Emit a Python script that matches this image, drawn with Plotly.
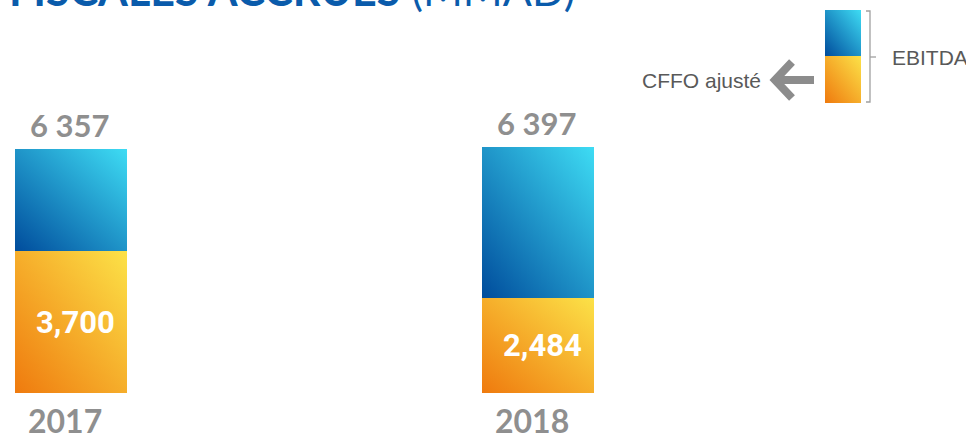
import plotly.graph_objects as go

# ---- data ----
years = ["2017", "2018"]
ebitda = [6357, 6397]
cffo = [3700, 2484]
total_labels = ["6 357", "6 397"]
cffo_labels = ["3,700", "2,484"]
title_bold = "FISCALES ACCRUES"
title_light = " (MMAD)"
legend_top = "EBITDA"
legend_bottom = "CFFO ajusté"

W, H = 966, 433
BLUE_KEY = "rgb(31, 143, 204)"
ORANGE_KEY = "rgb(245, 175, 40)"
GRAY = "#8f8f8f"
TXT = "#595959"


def px(x):
    return x / W


def py(y):
    return 1 - y / H


pos = list(range(len(years)))
rest = [e - c for e, c in zip(ebitda, cffo)]

fig = go.Figure()
fig.add_trace(go.Bar(x=pos, y=cffo, width=0.24, marker=dict(color=ORANGE_KEY, line=dict(width=0)),
                     hoverinfo="skip", name=legend_bottom))
fig.add_trace(go.Bar(x=pos, y=rest, width=0.24, marker=dict(color=BLUE_KEY, line=dict(width=0)),
                     hoverinfo="skip", name=legend_top))

ann = []
for i, yr in enumerate(years):
    ann.append(dict(x=pos[i], y=ebitda[i], xref="x", yref="y", text="<b>" + total_labels[i] + "</b>",
                    showarrow=False, yanchor="middle", yshift=24, xshift=-2,
                    font=dict(family="Lato", size=31, color=GRAY)))
    ann.append(dict(x=pos[i], y=cffo[i] / 2, xref="x", yref="y", text="<b>" + cffo_labels[i] + "</b>",
                    showarrow=False, yanchor="middle", xshift=4,
                    font=dict(family="Roboto", size=31, color="white")))
    ann.append(dict(x=pos[i], y=0, xref="x", yref="y", text="<b>" + yr + "</b>", showarrow=False,
                    yanchor="middle", yshift=-27, xshift=-6,
                    font=dict(family="Lato", size=32, color=GRAY)))

# title (cut at top of page)
ann.append(dict(x=px(8), y=py(16), xref="paper", yref="paper", xanchor="left", yanchor="bottom",
                showarrow=False, borderpad=0,
                text="<b>" + title_bold + "</b>" + title_light,
                font=dict(family="Lato", size=43, color="#0a5bab")))
# legend texts
ann.append(dict(x=px(890), y=py(57), xref="paper", yref="paper", xanchor="left", yanchor="middle",
                showarrow=False, text=legend_top, font=dict(family="Liberation Sans", size=21, color=TXT)))
ann.append(dict(x=px(763), y=py(80), xref="paper", yref="paper", xanchor="right", yanchor="middle",
                showarrow=False, text=legend_bottom, font=dict(family="Liberation Sans", size=21, color=TXT)))

shapes = [
    # legend icon
    dict(type="rect", xref="paper", yref="paper", x0=px(825), x1=px(861), y0=py(56), y1=py(10),
         fillcolor=BLUE_KEY, line=dict(width=0)),
    dict(type="rect", xref="paper", yref="paper", x0=px(825), x1=px(861), y0=py(103), y1=py(56),
         fillcolor=ORANGE_KEY, line=dict(width=0)),
    # bracket
    dict(type="path", xref="paper", yref="paper",
         path=f"M {px(866)} {py(11)} L {px(870)} {py(11)} L {px(870)} {py(102)} L {px(866)} {py(102)}",
         line=dict(color="#a0a0a0", width=1.3)),
    dict(type="line", xref="paper", yref="paper", x0=px(870), x1=px(876), y0=py(57), y1=py(57),
         line=dict(color="#a0a0a0", width=1.3)),
    # arrow
    dict(type="line", xref="paper", yref="paper", x0=px(814), x1=px(776), y0=py(80), y1=py(80),
         line=dict(color="#8c8c8c", width=8)),
    dict(type="path", xref="paper", yref="paper",
         path=f"M {px(792)} {py(62)} L {px(775)} {py(80)} L {px(792)} {py(98)}",
         line=dict(color="#8c8c8c", width=8)),
]

fig.update_layout(
    width=W, height=H, margin=dict(l=0, r=0, t=0, b=0),
    paper_bgcolor="white", plot_bgcolor="white",
    barmode="stack", bargap=0, showlegend=False,
    xaxis=dict(range=[-0.152, 1.916], visible=False, fixedrange=True),
    yaxis=dict(range=[-1042, 10240], visible=False, fixedrange=True),
    annotations=ann, shapes=shapes,
)

post = """
(function(){
document.documentElement.style.margin='0';
document.body.style.margin='0';
document.body.style.padding='0';
document.body.style.overflow='hidden';
var gd = document.getElementById('{plot_id}');
function apply(){
  var ns='http://www.w3.org/2000/svg';
  var svg = gd.querySelector('svg.main-svg');
  if(!svg) return;
  var defs = svg.querySelector('defs');
  if(!defs){defs=document.createElementNS(ns,'defs'); svg.insertBefore(defs, svg.firstChild);}
  function grad(id, c0, c1){
    if(document.getElementById(id)) return;
    var g=document.createElementNS(ns,'linearGradient'); g.setAttribute('id',id);
    g.setAttribute('x1','0'); g.setAttribute('y1','1'); g.setAttribute('x2','1'); g.setAttribute('y2','0');
    var s0=document.createElementNS(ns,'stop'); s0.setAttribute('offset','0'); s0.setAttribute('stop-color',c0);
    var s1=document.createElementNS(ns,'stop'); s1.setAttribute('offset','1'); s1.setAttribute('stop-color',c1);
    g.appendChild(s0); g.appendChild(s1); defs.appendChild(g);
  }
  grad('gBlueBar','rgb(0,76,156)','rgb(62,220,244)');
  grad('gOrangeBar','rgb(239,122,14)','rgb(252,226,72)');
  var map={'BLUEKEY':'url(#gBlueBar)','ORANGEKEY':'url(#gOrangeBar)'};
  gd.querySelectorAll('path').forEach(function(p){ var f=p.style.fill; if(map[f]) p.style.fill=map[f]; });
}
apply();
gd.on('plotly_afterplot', apply);
})();
""".replace("BLUEKEY", BLUE_KEY).replace("ORANGEKEY", ORANGE_KEY)

fig.write_html("out.html", post_script=post, config={"displayModeBar": False, "staticPlot": True})
